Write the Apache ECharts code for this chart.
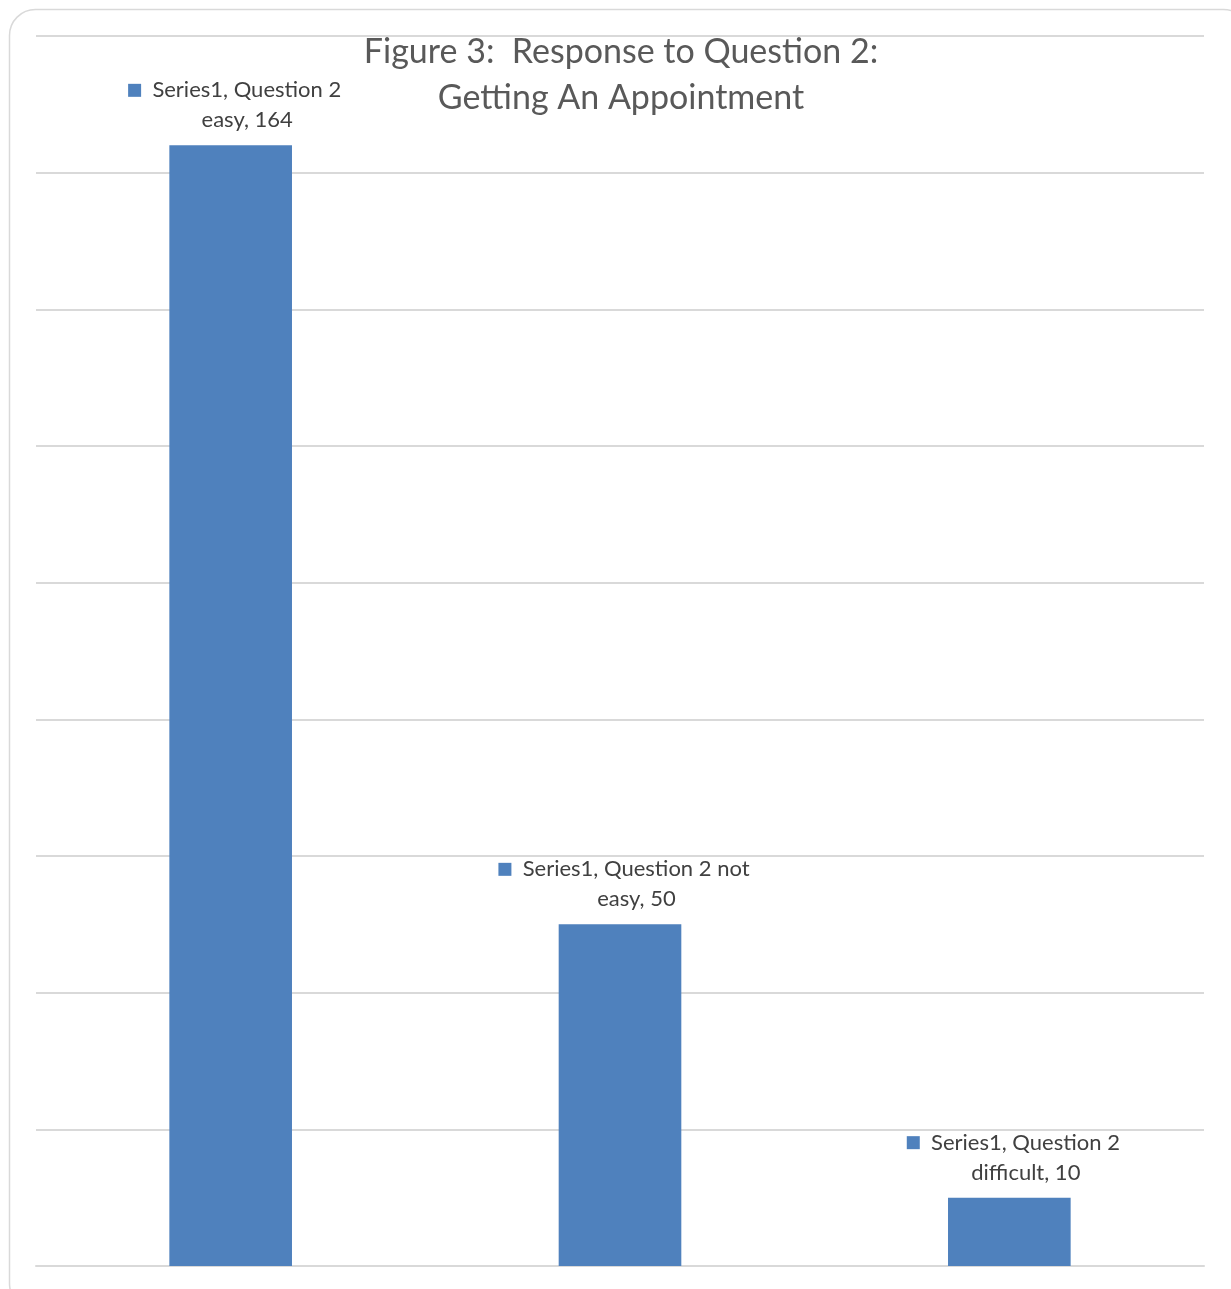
<!DOCTYPE html>
<html><head><meta charset="utf-8">
<script src="https://cdn.jsdelivr.net/npm/echarts@6/dist/echarts.min.js"></script>
<style>html,body{margin:0;padding:0;background:#fff}#c{width:1231px;height:1289px}</style>
</head><body><div id="c"></div>
<script>
const categories = ['Question 2 easy', 'Question 2 not easy', 'Question 2 difficult'];
const labelLines = [['Series1, Question 2', 'easy, 164'], ['Series1, Question 2 not', 'easy, 50'], ['Series1, Question 2', 'difficult, 10']];
const values = [164, 50, 10];
const seriesName = 'Series1';
const titleText = 'Figure 3:  Response to Question 2:\nGetting An Appointment';

const FONT = 'Lato';
const chart = echarts.init(document.getElementById('c'), null, {renderer: 'canvas'});
chart.setOption({
  animation: false,
  backgroundColor: '#fff',
  graphic: [{
    type: 'rect', left: 7, top: 7, z: -10,
    shape: {width: 1240, height: 1300, r: 26},
    style: {fill: 'none', stroke: '#D9D9D9', lineWidth: 1.5}
  }],
  title: {
    text: titleText, left: 616, top: 24, textAlign: 'center',
    textStyle: {fontFamily: FONT, fontSize: 34, fontWeight: 'normal', color: '#595959', lineHeight: 46}
  },
  grid: {left: 36, right: 27, top: 36, bottom: 23},
  xAxis: {
    type: 'category', data: categories,
    axisLine: {show: true, lineStyle: {color: '#D9D9D9', width: 2}},
    axisTick: {show: false}, axisLabel: {show: false}
  },
  yAxis: {
    type: 'value', min: 0, max: 180, interval: 20,
    axisLine: {show: false}, axisTick: {show: false}, axisLabel: {show: false},
    splitLine: {show: true, lineStyle: {color: '#D9D9D9', width: 2}}
  },
  series: [{
    name: seriesName, type: 'bar', data: values, barWidth: '31.5%',
    itemStyle: {color: '#4F81BD'},
    label: {
      show: true, position: 'top', distance: 10, offset: [4, 0],
      formatter: p => '{m|}  ' + labelLines[p.dataIndex][0] + '\n{s|}' + labelLines[p.dataIndex][1],
      fontFamily: FONT, fontSize: 22, color: '#404040', lineHeight: 30,
      rich: {
        m: {backgroundColor: '#4F81BD', width: 13, height: 13},
        s: {width: 25, height: 13}
      }
    }
  }]
});
</script></body></html>
